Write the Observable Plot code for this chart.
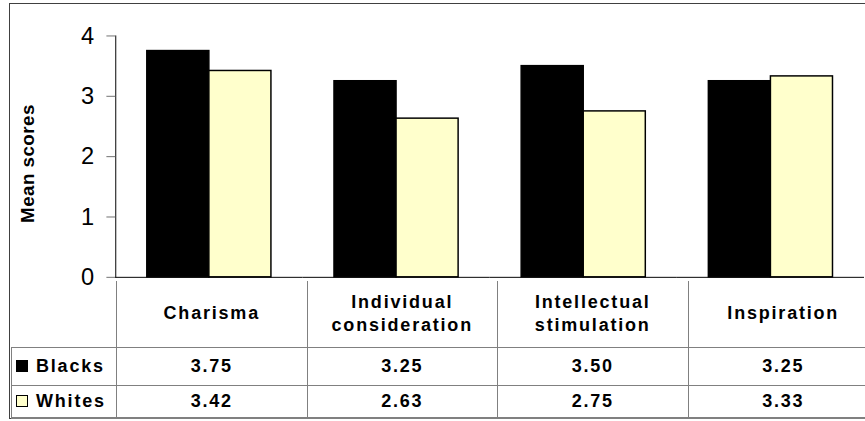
<!DOCTYPE html>
<html>
<head>
<meta charset="utf-8">
<script src="https://cdn.jsdelivr.net/npm/d3@7"></script>
<script src="https://cdn.jsdelivr.net/npm/@observablehq/plot@0.6"></script>
<style>
  html, body { margin: 0; padding: 0; background: #fff; overflow: hidden; }
  #wrap { position: relative; width: 865px; height: 421px; overflow: hidden; }
  #frame { position: absolute; left: 9px; top: 3px; width: 900px; height: 416px; border: 1px solid #404040; box-sizing: border-box; }
  #chart { position: absolute; left: 0; top: 0; }
  #chart g[aria-label="y-axis tick"] path { stroke: #707070; }
  #chart g[aria-label="y-axis line"] line, #chart g[aria-label="y-axis line"] path, #chart g[aria-label="y-axis line"] rect { stroke: #707070; }
  #chart g[aria-label="text"] text { letter-spacing: 0.5px; }
  #table { position: absolute; border-collapse: collapse; table-layout: fixed;
           font-family: "Liberation Sans", Arial, sans-serif; font-weight: bold; font-size: 18px;
           letter-spacing: 1.8px; color: #000; }
  #table td { border: 1px solid #808080; padding: 0; text-align: center; vertical-align: middle; white-space: pre-line; }
  #table tr.head td { border-top: none; line-height: 23px; }
  #table tr.head td.corner { border-left: none; border-top: none; }
  #table tr.last td { border-bottom: 2px solid #808080; }
  #table td.rowlab { text-align: left; padding-left: 4px; }
  .sw { display: inline-block; width: 10px; height: 10px; border: 1px solid #000; margin-right: 8px; vertical-align: 0px; }
</style>
</head>
<body>
<div id="wrap">
  <div id="frame"></div>
  <div id="chart"></div>
</div>
<script>
// ---- data ----
const categories = ["Charisma", "Individual\nconsideration", "Intellectual\nstimulation", "Inspiration"];
const groups = ["Blacks", "Whites"];
const blacks = [3.75, 3.25, 3.50, 3.25];
const whites = [3.42, 2.63, 2.75, 3.33];
const yTicks = [0, 1, 2, 3, 4];
const groupColors = ["#000000", "#ffffcc"];
const yLabel = "Mean scores";

const seriesValues = [blacks, whites];
const data = categories.flatMap((c, i) =>
  groups.map((g, j) => ({category: c, group: g, value: seriesValues[j][i]}))
);

const chart = Plot.plot({
  width: 878,
  height: 421,
  marginLeft: 116,
  marginRight: 0,
  marginTop: 36,
  marginBottom: 140,
  style: {fontFamily: "'Liberation Sans', Arial, sans-serif", fontSize: "24px", background: "transparent", color: "#000", overflow: "visible"},
  fx: {domain: categories, padding: 0, axis: null},
  x: {domain: groups, paddingInner: 0, paddingOuter: 0.5, axis: null},
  y: {domain: [0, 4], ticks: yTicks, tickSize: 9, tickPadding: 13, line: true, label: null, tickFormat: d => String(d)},
  color: {domain: groups, range: groupColors},
  marks: [
    Plot.barY(data, {fx: "category", x: "group", y: "value", fill: "group", stroke: "#000", strokeWidth: 1.5}),
    Plot.ruleY([0], {stroke: "#000", strokeWidth: 1}),
    Plot.text([yLabel], {fx: [categories[0]], text: d => d, frameAnchor: "left", textAnchor: "middle", dx: -89, dy: 7, rotate: -90, fontWeight: "bold", fontSize: 19})
  ]
});
document.getElementById("chart").appendChild(chart);

// ---- data table under the plot, aligned with the fx scale ----
const fx = chart.scale("fx");
const yS = chart.scale("y");
const left0 = 11;
const top0 = yS.range[0];
const firstW = fx.range[0] - left0;
const colW = (fx.range[1] - fx.range[0]) / categories.length;

const table = document.createElement("table");
table.id = "table";
table.style.left = left0 + "px";
table.style.top = top0 + "px";
table.style.width = (firstW + colW * categories.length) + "px";
const cg = document.createElement("colgroup");
[firstW, ...categories.map(() => colW)].forEach(w => {
  const col = document.createElement("col");
  col.style.width = w + "px";
  cg.appendChild(col);
});
table.appendChild(cg);

const head = document.createElement("tr");
head.className = "head";
head.style.height = "66px";
const corner = document.createElement("td");
corner.className = "corner";
head.appendChild(corner);
categories.forEach(c => {
  const td = document.createElement("td");
  td.textContent = c;
  head.appendChild(td);
});
table.appendChild(head);

const rowHeights = [38, 33];
groups.forEach((g, j) => {
  const tr = document.createElement("tr");
  if (j === groups.length - 1) tr.className = "last";
  tr.style.height = rowHeights[j] + "px";
  const lab = document.createElement("td");
  lab.className = "rowlab";
  const sw = document.createElement("span");
  sw.className = "sw";
  sw.style.background = groupColors[j];
  lab.appendChild(sw);
  lab.appendChild(document.createTextNode(g));
  tr.appendChild(lab);
  seriesValues[j].forEach(v => {
    const td = document.createElement("td");
    td.textContent = v.toFixed(2);
    tr.appendChild(td);
  });
  table.appendChild(tr);
});
document.getElementById("wrap").appendChild(table);
</script>
</body>
</html>
